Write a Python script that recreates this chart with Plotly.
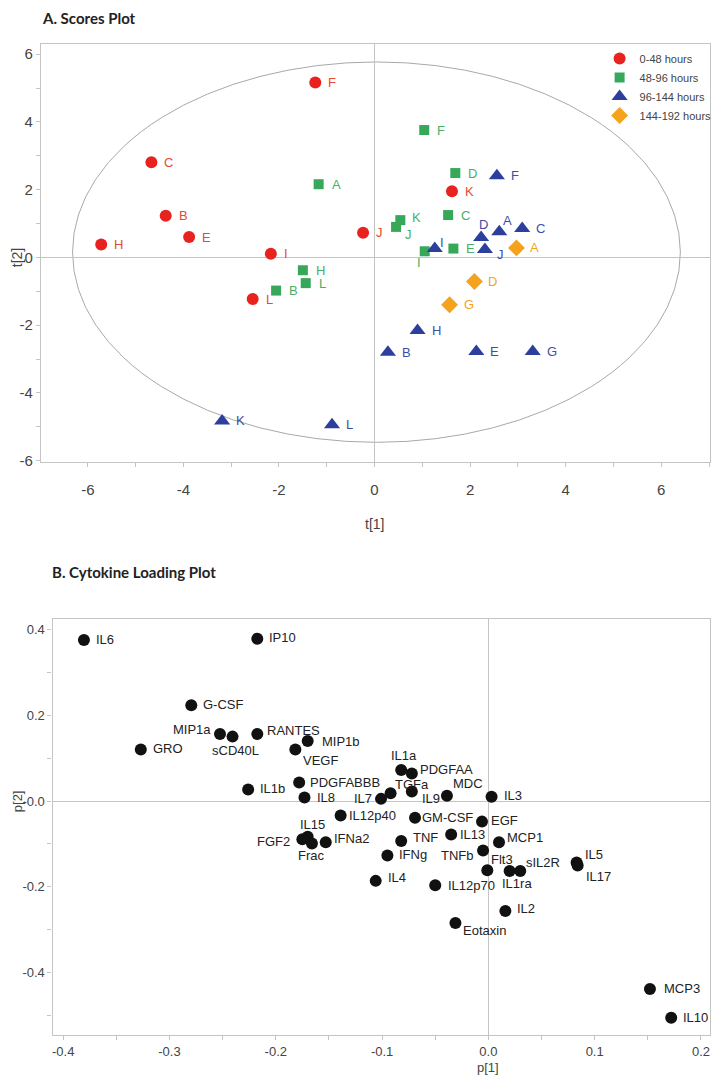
import plotly.graph_objects as go

# ---------------- Scores plot data ----------------
g1_labels = ["F", "C", "B", "E", "H", "I", "L", "K", "J"]
g1_x = [-1.24, -4.67, -4.37, -3.88, -5.72, -2.17, -2.55, 1.62, -0.24]
g1_y = [5.16, 2.81, 1.23, 0.60, 0.38, 0.11, -1.23, 1.95, 0.73]

g2_labels = ["A", "H", "L", "B", "F", "D", "C", "K", "J", "I", "E"]
g2_x = [-1.17, -1.50, -1.44, -2.06, 1.04, 1.69, 1.54, 0.54, 0.45, 1.05, 1.65]
g2_y = [2.16, -0.38, -0.76, -0.98, 3.76, 2.49, 1.25, 1.10, 0.90, 0.18, 0.26]

g3_labels = ["F", "D", "A", "C", "J", "I", "H", "B", "E", "G", "K", "L"]
g3_x = [2.56, 2.23, 2.61, 3.09, 2.31, 1.26, 0.90, 0.28, 2.13, 3.31, -3.19, -0.89]
g3_y = [2.41, 0.59, 0.76, 0.85, 0.23, 0.26, -2.16, -2.80, -2.78, -2.78, -4.83, -4.94]

g4_labels = ["A", "D", "G"]
g4_x = [2.97, 2.09, 1.57]
g4_y = [0.28, -0.71, -1.40]

group_names = ["0-48 hours", "48-96 hours", "96-144 hours", "144-192 hours"]

t_tickvals = [-6, -4, -2, 0, 2, 4, 6]
t_ticktext = ["-6", "-4", "-2", "0", "2", "4", "6"]

# Hotelling ellipse extents (t[1], t[2])
ell_x = [-6.32, 6.40]
ell_y = [-5.46, 5.77]

# ---------------- Loading plot data ----------------
cyto_names = ["IL6", "IP10", "G-CSF", "MIP1a", "sCD40L", "RANTES", "GRO", "VEGF",
              "MIP1b", "PDGFABBB", "IL1b", "IL8", "IL1a", "PDGFAA", "TGFa", "IL9",
              "IL7", "MDC", "IL3", "IL12p40", "GM-CSF", "EGF", "IL15", "FGF2",
              "Frac", "IFNa2", "TNF", "IL13", "MCP1", "TNFb", "IFNg", "Flt3",
              "IL1ra", "sIL2R", "IL4", "IL12p70", "IL5", "IL17", "IL2", "Eotaxin",
              "MCP3", "IL10"]
cyto_p1 = [-0.3805, -0.2174, -0.2795, -0.2525, -0.2407, -0.2174, -0.327, -0.1816,
           -0.170, -0.178, -0.226, -0.173, -0.082, -0.072, -0.092, -0.072,
           -0.101, -0.039, 0.003, -0.139, -0.069, -0.006, -0.170, -0.175,
           -0.166, -0.153, -0.082, -0.035, 0.010, -0.005, -0.095, -0.001,
           0.020, 0.030, -0.106, -0.050, 0.083, 0.084, 0.016, -0.031,
           0.152, 0.172]
cyto_p2 = [0.375, 0.378, 0.223, 0.156, 0.150, 0.156, 0.120, 0.120,
           0.140, 0.043, 0.027, 0.008, 0.072, 0.064, 0.018, 0.022,
           0.005, 0.012, 0.010, -0.034, -0.039, -0.048, -0.083, -0.089,
           -0.099, -0.096, -0.093, -0.078, -0.096, -0.115, -0.127, -0.161,
           -0.163, -0.163, -0.186, -0.196, -0.143, -0.150, -0.256, -0.284,
           -0.438, -0.505]

p1_tickvals = [-0.4, -0.3, -0.2, -0.1, 0.0, 0.1, 0.2]
p1_ticktext = ["-0.4", "-0.3", "-0.2", "-0.1", "0.0", "0.1", "0.2"]
p2_tickvals = [-0.4, -0.2, 0.0, 0.2, 0.4]
p2_ticktext = ["-0.4", "-0.2", "-0.0", "0.2", "0.4"]

# ---------------- styles ----------------
colors = ["#e8231f", "#37a85a", "#2c3f9c", "#f5a21c"]
text_colors = ["#e84a2e", "#4aae6a", "#3e4ea6", "#f5a21c"]
symbols = ["circle", "square", "triangle-up", "diamond"]
sizes = [12, 10, 14, 13]

# label placement: (anchor, dx, dy) in screen pixels, dy positive = down
score_default = [("left", 11, 0), ("left", 11, 0), ("left", 12, 0), ("left", 12, 0)]
score_pos = [
    {},
    {"I": ("center", -6, 11), "K": ("left", 10, -3), "J": ("left", 7, 8)},
    {"D": ("center", 2, -13), "A": ("center", 8, -11), "I": ("left", 3, -6),
     "J": ("left", 10, 5)},
    {},
]
cyto_default = ("left", 10, -1)
cyto_pos = {
    "MIP1a": ("right", -7, -5), "sCD40L": ("center", 3, 14), "RANTES": ("left", 8, -4),
    "MIP1b": ("left", 12, 1), "VEGF": ("left", 6, 11), "PDGFABBB": ("left", 9, 0),
    "IL8": ("left", 11, 0), "IL1a": ("center", 3, -15), "PDGFAA": ("left", 6, -4),
    "TGFa": ("left", 2, -9), "IL9": ("left", 8, 7), "IL7": ("right", -7, 0),
    "MDC": ("left", 4, -12), "IL12p40": ("left", 6, 0), "GM-CSF": ("left", 5, 0),
    "EGF": ("left", 7, -1), "IL15": ("center", 5, -12), "FGF2": ("right", -10, 2),
    "Frac": ("center", 0, 12), "IFNa2": ("left", 6, -4), "TNF": ("left", 10, -3),
    "IL13": ("left", 7, 0), "MCP1": ("left", 6, -5), "TNFb": ("right", -7, 5),
    "Flt3": ("left", 2, -11), "IL1ra": ("center", 7, 13), "sIL2R": ("left", 4, -8),
    "IL4": ("left", 10, -3), "IL12p70": ("left", 11, 0), "IL5": ("left", 6, -8),
    "IL17": ("left", 6, 11), "IL2": ("left", 10, -2), "Eotaxin": ("left", 6, 8),
    "MCP3": ("left", 12, -1), "IL10": ("left", 10, 0),
}

label_font = "Liberation Sans, Arial, sans-serif"

fig = go.Figure()

groups = [(g1_labels, g1_x, g1_y), (g2_labels, g2_x, g2_y),
          (g3_labels, g3_x, g3_y), (g4_labels, g4_x, g4_y)]
for i, (lab, xs, ys) in enumerate(groups):
    fig.add_trace(go.Scatter(
        x=xs, y=ys, mode="markers", name=group_names[i],
        marker=dict(color=colors[i], symbol=symbols[i], size=sizes[i], line=dict(width=0)),
        xaxis="x", yaxis="y", cliponaxis=False,
    ))
    for l, xv, yv in zip(lab, xs, ys):
        anc, dx, dy = score_pos[i].get(l, score_default[i])
        fig.add_annotation(x=xv, y=yv, xref="x", yref="y", text=l, showarrow=False,
                           xanchor=anc, yanchor="middle", xshift=dx, yshift=-dy,
                           font=dict(family=label_font, size=13, color=text_colors[i]))

fig.add_trace(go.Scatter(
    x=cyto_p1, y=cyto_p2, mode="markers", showlegend=False,
    marker=dict(color="#111111", size=12, symbol="circle"),
    xaxis="x2", yaxis="y2", cliponaxis=False,
))
for n, xv, yv in zip(cyto_names, cyto_p1, cyto_p2):
    anc, dx, dy = cyto_pos.get(n, cyto_default)
    fig.add_annotation(x=xv, y=yv, xref="x2", yref="y2", text=n, showarrow=False,
                       xanchor=anc, yanchor="middle", xshift=dx, yshift=-dy,
                       font=dict(family=label_font, size=13, color="#222222"))

fig.add_shape(type="circle", xref="x", yref="y", x0=ell_x[0], x1=ell_x[1],
              y0=ell_y[0], y1=ell_y[1], line=dict(color="#a8a8a8", width=1), layer="below")

axcol = "#c4c4c4"
tickfont_a = dict(family="Liberation Sans Narrow, Arial Narrow, Liberation Sans, sans-serif", size=15, color="#444444")
tickfont_b = dict(family="Liberation Sans, Arial, sans-serif", size=13, color="#444444")
common = dict(showline=True, mirror=True, linecolor=axcol, linewidth=1.2, showgrid=False,
              zeroline=True, zerolinecolor=axcol, zerolinewidth=1.2,
              ticks="outside", ticklen=4, tickcolor=axcol)

# page offset of 8px (browser body margin) compensated in margins
fig.update_layout(
    width=721, height=1087,
    margin=dict(l=33, r=13, t=36, b=60),
    paper_bgcolor="white", plot_bgcolor="white",
    xaxis=dict(domain=[0, 1], anchor="y", range=[-6.98, 7.02],
               tickvals=t_tickvals, ticktext=t_ticktext,
               minor=dict(dtick=1, tick0=0, ticks="outside", ticklen=4, tickcolor=axcol),
               tickfont=tickfont_a, ticklabelstandoff=10, **common),
    yaxis=dict(domain=[0.5779, 1.0], anchor="x", range=[-6.05, 6.3],
               tickvals=t_tickvals, ticktext=t_ticktext,
               minor=dict(dtick=1, tick0=0, ticks="outside", ticklen=4, tickcolor=axcol),
               tickfont=tickfont_a, **common),
    xaxis2=dict(domain=[0.0173, 1], anchor="y2", range=[-0.41, 0.2085],
                tickvals=p1_tickvals, ticktext=p1_ticktext,
                minor=dict(dtick=0.05, tick0=0, ticks="outside", ticklen=4, tickcolor=axcol),
                tickfont=tickfont_b, ticklabelstandoff=0, **common),
    yaxis2=dict(domain=[0, 0.4198], anchor="x2", range=[-0.545, 0.424],
                tickvals=p2_tickvals, ticktext=p2_ticktext,
                minor=dict(dtick=0.1, tick0=0, ticks="outside", ticklen=4, tickcolor=axcol),
                tickfont=tickfont_b, **common),
    legend=dict(x=0.835, y=1.0, xanchor="left", yanchor="top", bgcolor="rgba(0,0,0,0)",
                font=dict(family="Liberation Sans, Arial, sans-serif", size=11, color="#444444"),
                tracegroupgap=0, itemwidth=30),
    showlegend=True,
)

H = 1087 - 36 - 60
def py(p):
    return (1035 - p) / H
def px(p):
    return (p - 41) / 675

title_font = dict(family="Lato, Open Sans, sans-serif", size=15, color="#222222")
axt_font = dict(family="Liberation Sans Narrow, Arial Narrow, Liberation Sans, sans-serif", size=14, color="#444444")
axt_font_b = dict(family="Liberation Sans, Arial, sans-serif", size=13, color="#444444")
fig.add_annotation(text="<b>A. Scores Plot</b>", xref="paper", yref="paper", x=px(40), y=py(18),
                   xanchor="left", yanchor="middle", showarrow=False, font=title_font)
fig.add_annotation(text="<b>B. Cytokine Loading Plot</b>", xref="paper", yref="paper", x=px(50), y=py(572),
                   xanchor="left", yanchor="middle", showarrow=False, font=title_font)
fig.add_annotation(text="t[1]", xref="paper", yref="paper", x=px(377), y=py(524),
                   xanchor="center", yanchor="middle", showarrow=False, font=axt_font)
fig.add_annotation(text="t[2]", xref="paper", yref="paper", x=px(17), y=py(258), textangle=-90,
                   xanchor="center", yanchor="middle", showarrow=False, font=axt_font)
fig.add_annotation(text="p[1]", xref="paper", yref="paper", x=px(492), y=py(1067),
                   xanchor="center", yanchor="middle", showarrow=False, font=axt_font_b)
fig.add_annotation(text="p[2]", xref="paper", yref="paper", x=px(17), y=py(801), textangle=-90,
                   xanchor="center", yanchor="middle", showarrow=False, font=axt_font_b)

fig.write_html("out.html")
